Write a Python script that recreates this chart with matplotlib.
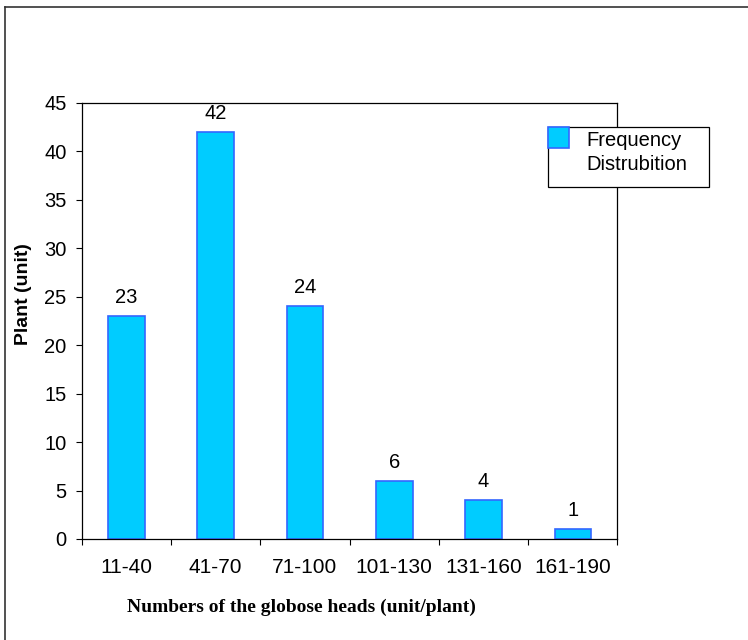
import matplotlib
matplotlib.use("Agg")
import matplotlib.pyplot as plt
from matplotlib.patches import Rectangle
from matplotlib.lines import Line2D

categories = ["11-40", "41-70", "71-100", "101-130", "131-160", "161-190"]
frequency = [23, 42, 24, 6, 4, 1]
series_lines = ["Frequency", "Distrubition"]

plt.rcParams["font.family"] = ["Liberation Sans", "DejaVu Sans"]

W, H = 748, 640
fig = plt.figure(figsize=(W / 100, H / 100), dpi=100)
ax = fig.add_axes([81.7 / W, 1 - 539 / H, (617.5 - 81.7) / W, (539 - 102.7) / H])

fill_c = "#00CCFF"
edge_c = "#3366FF"
fs = 14.5

x = list(range(len(categories)))
ax.bar(x, frequency, width=0.41, color=fill_c, edgecolor=edge_c, linewidth=1.2)

for xi, v in zip(x, frequency):
    ax.annotate(str(v), (xi, v), xytext=(0, 9.5), textcoords="offset points",
                ha="center", va="baseline", fontsize=fs)

ax.set_xlim(-0.5, len(categories) - 0.5)
ax.set_ylim(0, 45)
ax.set_yticks(range(0, 46, 5))
ax.tick_params(axis="y", direction="out", length=4.3, width=0.8, pad=6.5, labelsize=fs)

# boundaries get the tick marks, centres get the labels
ax.set_xticks([i - 0.5 for i in range(len(categories) + 1)])
ax.set_xticklabels([])
ax.set_xticks(x, minor=True)
ax.set_xticklabels(categories, minor=True)
ax.tick_params(axis="x", which="major", direction="out", length=4.3, width=0.8)
ax.tick_params(axis="x", which="minor", length=0, pad=14, labelsize=15)

for s in ax.spines.values():
    s.set_linewidth(0.9)
    s.set_color("black")

fig.text(24 / W, 1 - 294 / H, "Plant (unit)", rotation=90, ha="center", va="center",
         fontsize=14, fontweight="bold")
fig.text(127 / W, 1 - 607 / H, "Numbers of the globose heads (unit/plant)",
         ha="left", va="center", fontsize=14, fontweight="bold",
         family=["Liberation Serif", "DejaVu Serif"])

# legend box
lx0, ly0, lx1, ly1 = 548, 127, 709, 187
fig.patches.append(Rectangle((lx0 / W, 1 - ly1 / H), (lx1 - lx0) / W, (ly1 - ly0) / H,
                             transform=fig.transFigure, facecolor="white",
                             edgecolor="black", linewidth=0.9, zorder=5))
fig.patches.append(Rectangle((lx0 / W, 1 - 148 / H), 21 / W, 21 / H,
                             transform=fig.transFigure, facecolor=fill_c,
                             edgecolor=edge_c, linewidth=1.2, zorder=6))
for line, base in zip(series_lines, [146, 170]):
    fig.text(586 / W, 1 - base / H, line, ha="left", va="baseline", fontsize=fs, zorder=7)

# frame around the chart area
fig.add_artist(Line2D([4.5 / W, 1], [1 - 6.5 / H, 1 - 6.5 / H], transform=fig.transFigure,
                      color="#333333", linewidth=1.2))
fig.add_artist(Line2D([5 / W, 5 / W], [0, 1 - 6.5 / H], transform=fig.transFigure,
                      color="#333333", linewidth=1.2))

fig.savefig("out.png", dpi=100)
